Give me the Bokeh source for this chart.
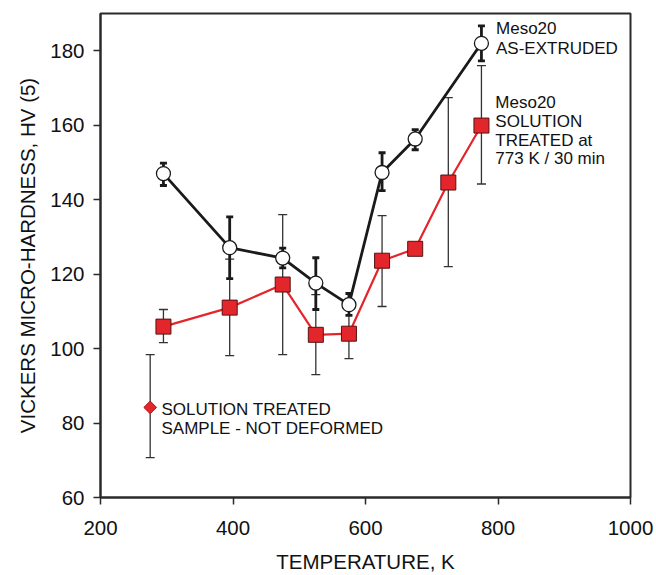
import math
from bokeh.plotting import figure
from bokeh.models import ColumnDataSource, Whisker, TeeHead, Range1d, FixedTicker
from bokeh.embed import file_html
from bokeh.resources import INLINE
from bokeh.core.properties import value

# ---- data ----
temp_ext = [295, 395, 475, 525, 575, 625, 675, 775]
hv_ext = [147.0, 127.1, 124.3, 117.6, 111.8, 147.3, 156.3, 182.0]
ext_lo = [143.8, 118.8, 121.7, 110.5, 108.9, 142.4, 153.4, 177.3]
ext_hi = [149.8, 135.4, 127.0, 124.4, 114.8, 152.6, 158.8, 186.7]

temp_st = [295, 395, 475, 525, 575, 625, 675, 725, 775]
hv_st = [105.9, 111.0, 117.2, 103.7, 104.0, 123.6, 126.8, 144.6, 159.9]
st_lo = [101.6, 98.1, 98.4, 93.0, 97.3, 111.3, None, 122.0, 144.2]
st_hi = [110.5, 124.0, 136.0, 114.5, 110.7, 135.7, None, 167.4, 176.0]

temp_nd = [275]
hv_nd = [84.2]
nd_lo = [70.7]
nd_hi = [98.4]

x_ticks = [200, 400, 600, 800, 1000]
y_ticks = [60, 80, 100, 120, 140, 160, 180]

label_ext = ["Meso20", "AS-EXTRUDED"]
label_st = ["Meso20", "SOLUTION", "TREATED at", "773 K / 30 min"]
label_nd = ["SOLUTION TREATED", "SAMPLE - NOT DEFORMED"]

FONT = "Liberation Sans"
RED = "#e3262b"

p = figure(width=656, height=575, output_backend="svg", toolbar_location=None,
           x_range=Range1d(200, 1000), y_range=Range1d(60, 190))
p.min_border_left = 100
p.min_border_right = 26
p.min_border_top = 13
p.min_border_bottom = 78
p.xgrid.visible = False
p.ygrid.visible = False
p.outline_line_color = "#2a2a2a"
p.outline_line_width = 2
p.background_fill_color = "white"
p.border_fill_color = "white"

for ax in (p.xaxis, p.yaxis):
    ax.axis_line_width = 2
    ax.axis_line_color = "#2a2a2a"
    ax.major_tick_line_color = "#2a2a2a"
    ax.major_tick_line_width = 1.5
    ax.major_tick_out = 7
    ax.major_tick_in = 0
    ax.minor_tick_line_color = None
    ax.major_label_text_font = FONT
    ax.major_label_text_font_size = "20.5px"
    ax.major_label_text_color = "#111111"
    ax.axis_label_text_font = FONT
    ax.axis_label_text_font_size = "20.5px"
    ax.axis_label_text_font_style = "normal"
    ax.axis_label_text_color = "#111111"

p.xaxis.ticker = FixedTicker(ticks=x_ticks)
p.yaxis.ticker = FixedTicker(ticks=y_ticks)
p.xaxis.axis_label = "TEMPERATURE, K"
p.yaxis.axis_label = "VICKERS MICRO-HARDNESS, HV (5)"
p.xaxis.major_label_standoff = 16
p.yaxis.major_label_standoff = 9
p.xaxis.axis_label_standoff = 12
p.yaxis.axis_label_standoff = 8

def whisker(src, color, width, head):
    return Whisker(source=src, base="x", lower="lo", upper="hi",
                   line_color=color, line_width=width, level="underlay",
                   upper_head=TeeHead(size=head, line_color=color, line_width=width),
                   lower_head=TeeHead(size=head, line_color=color, line_width=width))

# error bars, solution treated (thin)
st_idx = [i for i in range(len(temp_st)) if st_lo[i] is not None]
src_st_err = ColumnDataSource(dict(
    x=[temp_st[i] for i in st_idx],
    lo=[st_lo[i] for i in st_idx],
    hi=[st_hi[i] for i in st_idx]))
p.add_layout(whisker(src_st_err, "#333333", 1.3, 9))

src_nd = ColumnDataSource(dict(x=temp_nd, y=hv_nd, lo=nd_lo, hi=nd_hi))
p.add_layout(whisker(src_nd, "#333333", 1.3, 9))

# error bars, as-extruded (thick)
src_ext = ColumnDataSource(dict(x=temp_ext, y=hv_ext, lo=ext_lo, hi=ext_hi))
p.add_layout(whisker(src_ext, "#1a1a1a", 2.8, 7))

src_st = ColumnDataSource(dict(x=temp_st, y=hv_st))
p.line("x", "y", source=src_st, line_color=RED, line_width=2.2)
p.scatter("x", "y", source=src_st, marker="square", size=15,
          fill_color=RED, line_color="#5a1010", line_width=1)

p.line("x", "y", source=src_ext, line_color="#1a1a1a", line_width=2.8)
p.scatter("x", "y", source=src_ext, marker="circle", size=14,
          fill_color="white", line_color="#1a1a1a", line_width=1.3)

p.scatter("x", "y", source=src_nd, marker="square", size=9, angle=math.pi / 4,
          fill_color=RED, line_color="#b01818", line_width=1)

# labels
def add_lines(xv, y_top, lines, step):
    p.text(x=[xv] * len(lines), y=[y_top - step * i for i in range(len(lines))],
           text=lines, text_font=value(FONT), text_font_size="17px",
           text_color="#111111", text_baseline="middle", text_align="left")

add_lines(797, 185.9, label_ext, 5.3)
add_lines(796, 166.0, label_st, 5.0)
add_lines(292, 83.6, label_nd, 5.1)

open("out.html", "w").write(file_html(p, INLINE))
